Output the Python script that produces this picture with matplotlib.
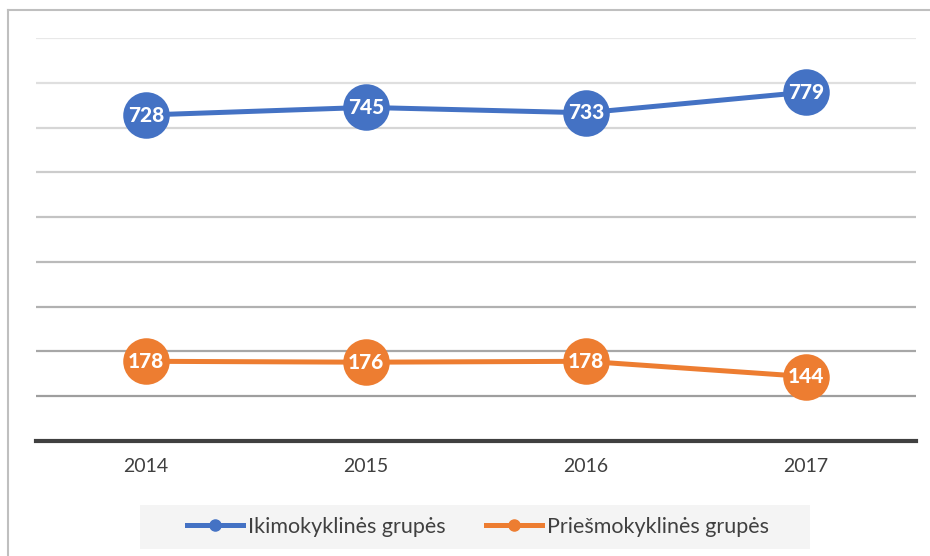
import numpy as np
import matplotlib
matplotlib.use("Agg")
import matplotlib.pyplot as plt
from matplotlib.lines import Line2D
from matplotlib.patches import Rectangle

# Chart data
years = ["2014", "2015", "2016", "2017"]
ikimokyklines = [728, 745, 733, 779]
priesmokyklines = [178, 176, 178, 144]
series_names = ["Ikimokyklinės grupės", "Priešmokyklinės grupės"]
grid_values = [100, 200, 300, 400, 500, 600, 700, 800, 900]

BLUE = "#4472C4"
ORANGE = "#ED7D31"
TEXT = "#404040"

plt.rcParams["font.family"] = ["Lato", "DejaVu Sans"]

fig = plt.figure(figsize=(9.3, 5.56), dpi=100)
ax = fig.add_axes([36 / 930, 1 - 441 / 556, 880 / 930, 403 / 556])

x = np.arange(len(years))

# gridlines get darker towards the bottom, like the source
shades = np.linspace(0.91, 0.62, len(grid_values))[::-1]
for val, s in zip(grid_values, shades):
    ax.axhline(val, color=(s, s, s), lw=1.6, zorder=1)

for vals, col in [(ikimokyklines, BLUE), (priesmokyklines, ORANGE)]:
    ax.plot(x, vals, color=col, lw=3.6, zorder=3, solid_capstyle="round")
    ax.plot(x, vals, "o", color=col, ms=33.5, zorder=4, markeredgewidth=0)
    for xi, v in zip(x, vals):
        ax.text(xi, v, str(v), ha="center", va="center", color="white",
                fontsize=15, fontweight="black", zorder=5)

ax.set_xlim(-0.5, len(years) - 0.5)
ax.set_ylim(0, 900)
ax.set_xticks(x)
ax.set_xticklabels(years, fontsize=14, color=TEXT)
ax.set_yticks([])
ax.tick_params(axis="x", length=0, pad=12)
for sp in ["top", "right", "left"]:
    ax.spines[sp].set_visible(False)
ax.spines["bottom"].set_color(TEXT)
ax.spines["bottom"].set_linewidth(3)
ax.spines["bottom"].set_zorder(6)
ax.patch.set_alpha(0)

# outer chart border (left and top only visible)
fig.add_artist(Line2D([7.5 / 930, 7.5 / 930], [0, 1 - 9.5 / 556],
                      color="#bfbfbf", lw=1.5, transform=fig.transFigure))
fig.add_artist(Line2D([7.5 / 930, 1], [1 - 9.5 / 556, 1 - 9.5 / 556],
                      color="#bfbfbf", lw=1.5, transform=fig.transFigure))

# legend background strip
fig.add_artist(Rectangle((140 / 930, 1 - 549 / 556), 670 / 930, 44 / 556,
                         transform=fig.transFigure, facecolor="#f4f4f4",
                         edgecolor="none", zorder=0))

handles = [Line2D([], [], color=BLUE, lw=3.6, marker="o", ms=8),
           Line2D([], [], color=ORANGE, lw=3.6, marker="o", ms=8)]
leg = fig.legend(handles, series_names, loc="center",
                 bbox_to_anchor=(478 / 930, 1 - 527 / 556), ncol=2,
                 fontsize=15.5, frameon=False, handlelength=2.6,
                 handletextpad=0.2, columnspacing=1.9)
for t in leg.get_texts():
    t.set_color(TEXT)

fig.savefig("out.png", dpi=100)
